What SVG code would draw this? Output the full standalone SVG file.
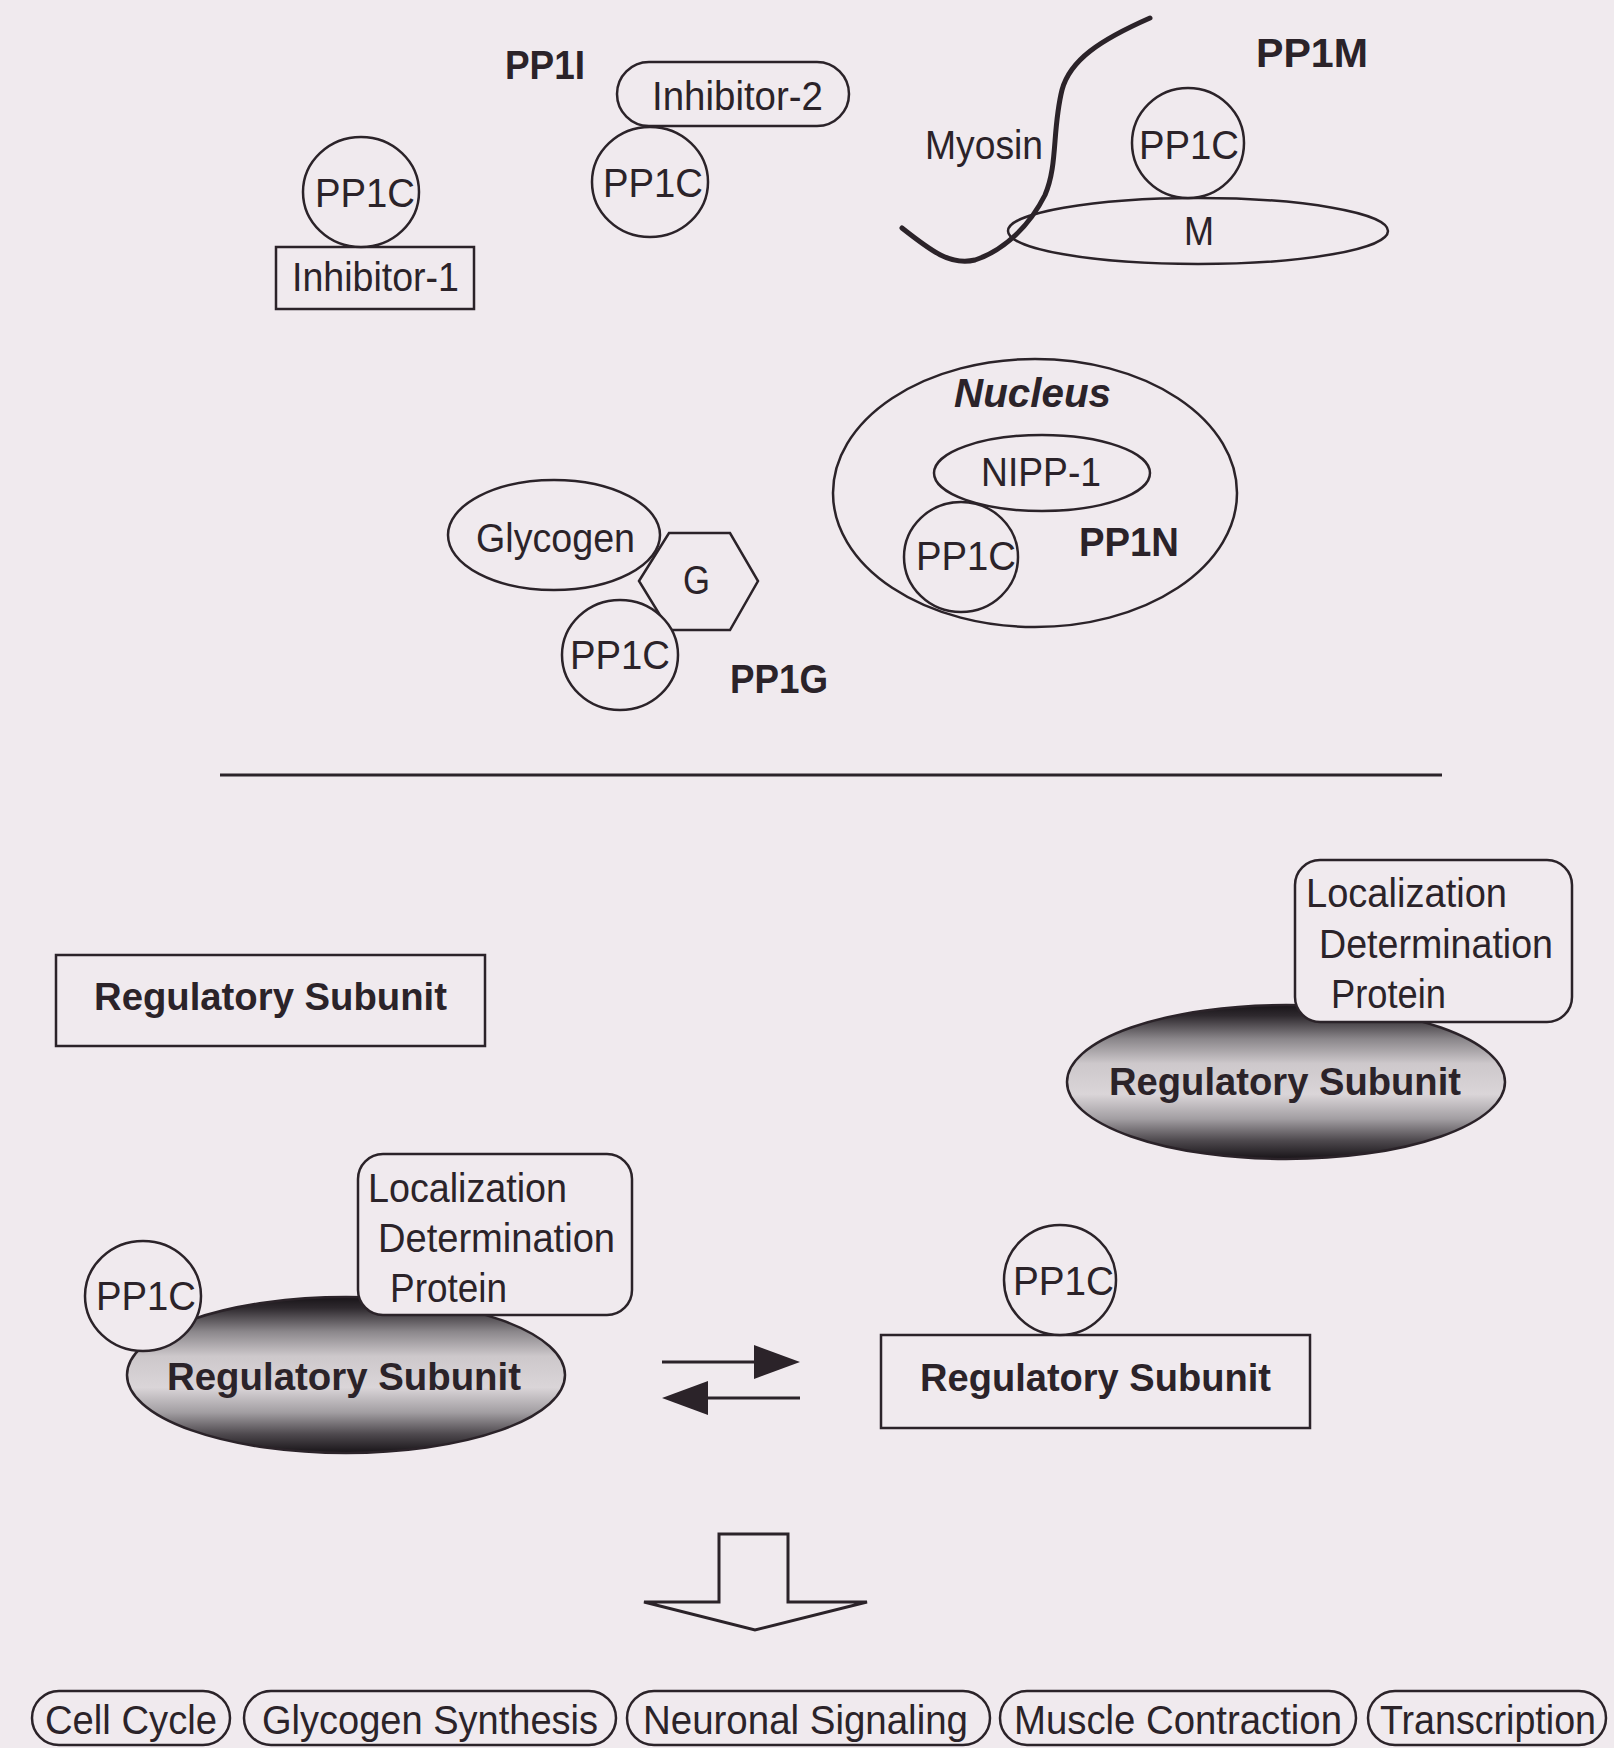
<svg xmlns="http://www.w3.org/2000/svg" width="1614" height="1748" viewBox="0 0 1614 1748">
<defs>
<linearGradient id="rg" x1="0" y1="0" x2="0" y2="1">
<stop offset="0" stop-color="#181418"/>
<stop offset="0.07" stop-color="#2e292e"/>
<stop offset="0.22" stop-color="#8a868a"/>
<stop offset="0.38" stop-color="#cdc8cb"/>
<stop offset="0.58" stop-color="#dad5d8"/>
<stop offset="0.74" stop-color="#a29ea2"/>
<stop offset="0.88" stop-color="#4e494e"/>
<stop offset="1" stop-color="#181418"/>
</linearGradient>
<style>
.s{fill:#f0eaee;stroke:#2b2329;stroke-width:2.5}
.g{fill:url(#rg);stroke:#2b2329;stroke-width:2.5}
.t{font-family:"Liberation Sans",Arial,sans-serif;font-size:40px;fill:#2b2329}
.b{font-family:"Liberation Sans",Arial,sans-serif;font-weight:bold;font-size:39px;fill:#2b2329}
.c{font-family:"Liberation Sans",Arial,sans-serif;font-weight:bold;font-size:40px;fill:#2b2329}
.ln{fill:none;stroke:#2b2329;stroke-width:3}
.ar{fill:#2b2329;stroke:none}
</style>
</defs>
<rect x="0" y="0" width="1614" height="1748" fill="#f0eaee"/>

<g id="pp1-inhibitor1">
<rect class="s" x="276" y="247" width="198" height="62"/>
<text class="t" x="292" y="291" textLength="167" lengthAdjust="spacingAndGlyphs">Inhibitor-1</text>
<ellipse class="s" cx="361" cy="192" rx="58" ry="55"/>
<text class="t" x="315" y="207" textLength="100" lengthAdjust="spacingAndGlyphs">PP1C</text>
</g>

<g id="pp1i">
<text class="c" x="505" y="79" textLength="80" lengthAdjust="spacingAndGlyphs">PP1I</text>
<rect class="s" x="617" y="62" width="232" height="64" rx="32"/>
<text class="t" x="652" y="110" textLength="171" lengthAdjust="spacingAndGlyphs">Inhibitor-2</text>
<ellipse class="s" cx="650" cy="182" rx="58" ry="55"/>
<text class="t" x="603" y="197" textLength="100" lengthAdjust="spacingAndGlyphs">PP1C</text>
</g>

<g id="pp1m">
<text class="c" x="1256" y="67" textLength="112" lengthAdjust="spacingAndGlyphs">PP1M</text>
<ellipse class="s" cx="1198" cy="231" rx="190" ry="33"/>
<text class="t" x="1184" y="245" textLength="30" lengthAdjust="spacingAndGlyphs">M</text>
<ellipse class="s" cx="1188" cy="143" rx="56" ry="55"/>
<text class="t" x="1139" y="159" textLength="100" lengthAdjust="spacingAndGlyphs">PP1C</text>
<text class="t" x="925" y="159" textLength="118" lengthAdjust="spacingAndGlyphs">Myosin</text>
<path d="M1150,18 C1100,40 1070,60 1062,90 C1052,130 1058,165 1045,195 C1030,225 1005,250 975,260 C950,266 930,250 902,228" fill="none" stroke="#2b2329" stroke-width="5" stroke-linecap="round"/>
</g>

<g id="pp1n">
<ellipse class="s" cx="1035" cy="493" rx="202" ry="134"/>
<text class="c" x="954" y="407" font-style="italic" font-size="44" textLength="157" lengthAdjust="spacingAndGlyphs">Nucleus</text>
<ellipse class="s" cx="1042" cy="473" rx="108" ry="38"/>
<text class="t" x="981" y="486" textLength="120" lengthAdjust="spacingAndGlyphs">NIPP-1</text>
<ellipse class="s" cx="961" cy="557" rx="57" ry="55"/>
<text class="t" x="916" y="570" textLength="100" lengthAdjust="spacingAndGlyphs">PP1C</text>
<text class="c" x="1079" y="556" textLength="100" lengthAdjust="spacingAndGlyphs">PP1N</text>
</g>

<g id="pp1g">
<ellipse class="s" cx="554" cy="535" rx="106" ry="55"/>
<text class="t" x="476" y="552" textLength="159" lengthAdjust="spacingAndGlyphs">Glycogen</text>
<polygon class="s" points="639,581 669,533 730,533 758,581 730,630 669,630"/>
<text class="t" x="683" y="594" textLength="27" lengthAdjust="spacingAndGlyphs">G</text>
<ellipse class="s" cx="620" cy="655" rx="58" ry="55"/>
<text class="t" x="570" y="669" textLength="100" lengthAdjust="spacingAndGlyphs">PP1C</text>
<text class="c" x="730" y="693" textLength="98" lengthAdjust="spacingAndGlyphs">PP1G</text>
</g>

<g id="divider">
<line class="ln" x1="220" y1="775" x2="1442" y2="775"/>
</g>

<g id="reg-subunit-box">
<rect class="s" x="56" y="955" width="429" height="91"/>
<text class="b" x="94" y="1010" textLength="353" lengthAdjust="spacingAndGlyphs">Regulatory Subunit</text>
</g>

<g id="reg-ldp-right">
<ellipse class="g" cx="1286" cy="1082" rx="219" ry="77"/>
<text class="b" x="1109" y="1095" textLength="352" lengthAdjust="spacingAndGlyphs">Regulatory Subunit</text>
<rect class="s" x="1295" y="860" width="277" height="162" rx="25"/>
<text class="t" x="1306" y="907" textLength="201" lengthAdjust="spacingAndGlyphs">Localization</text>
<text class="t" x="1319" y="958" textLength="234" lengthAdjust="spacingAndGlyphs">Determination</text>
<text class="t" x="1331" y="1008" textLength="115" lengthAdjust="spacingAndGlyphs">Protein</text>
</g>

<g id="holoenzyme-left">
<ellipse class="g" cx="346" cy="1375" rx="219" ry="78"/>
<text class="b" x="167" y="1390" textLength="354" lengthAdjust="spacingAndGlyphs">Regulatory Subunit</text>
<rect class="s" x="358" y="1154" width="274" height="161" rx="25"/>
<text class="t" x="368" y="1202" textLength="199" lengthAdjust="spacingAndGlyphs">Localization</text>
<text class="t" x="378" y="1252" textLength="237" lengthAdjust="spacingAndGlyphs">Determination</text>
<text class="t" x="390" y="1302" textLength="117" lengthAdjust="spacingAndGlyphs">Protein</text>
<ellipse class="s" cx="143" cy="1296" rx="58" ry="55"/>
<text class="t" x="96" y="1310" textLength="100" lengthAdjust="spacingAndGlyphs">PP1C</text>
</g>

<g id="complex-right">
<rect class="s" x="881" y="1335" width="429" height="93"/>
<text class="b" x="920" y="1391" textLength="351" lengthAdjust="spacingAndGlyphs">Regulatory Subunit</text>
<ellipse class="s" cx="1060" cy="1280" rx="56" ry="55"/>
<text class="t" x="1013" y="1295" textLength="101" lengthAdjust="spacingAndGlyphs">PP1C</text>
</g>

<g id="connectors">
<line x1="662" y1="1362" x2="760" y2="1362" stroke="#2b2329" stroke-width="3"/>
<polygon class="ar" points="754,1345 800,1362 754,1379"/>
<line x1="705" y1="1398" x2="800" y2="1398" stroke="#2b2329" stroke-width="3"/>
<polygon class="ar" points="708,1381 662,1398 708,1415"/>
<polygon points="719,1534 788,1534 788,1602 867,1602 755,1630 644,1602 719,1602" fill="#f0eaee" stroke="#2b2329" stroke-width="3"/>
</g>

<g id="outcome-cell-cycle">
<rect class="s" x="32" y="1691" width="198" height="54" rx="27"/>
<text class="t" x="45" y="1734" textLength="172" lengthAdjust="spacingAndGlyphs">Cell Cycle</text>
</g>
<g id="outcome-glycogen-synthesis">
<rect class="s" x="244" y="1691" width="372" height="54" rx="27"/>
<text class="t" x="262" y="1734" textLength="336" lengthAdjust="spacingAndGlyphs">Glycogen Synthesis</text>
</g>
<g id="outcome-neuronal-signaling">
<rect class="s" x="627" y="1691" width="363" height="54" rx="27"/>
<text class="t" x="643" y="1734" textLength="325" lengthAdjust="spacingAndGlyphs">Neuronal Signaling</text>
</g>
<g id="outcome-muscle-contraction">
<rect class="s" x="1000" y="1691" width="356" height="54" rx="27"/>
<text class="t" x="1014" y="1734" textLength="328" lengthAdjust="spacingAndGlyphs">Muscle Contraction</text>
</g>
<g id="outcome-transcription">
<rect class="s" x="1368" y="1691" width="238" height="54" rx="27"/>
<text class="t" x="1380" y="1734" textLength="216" lengthAdjust="spacingAndGlyphs">Transcription</text>
</g>
</svg>
